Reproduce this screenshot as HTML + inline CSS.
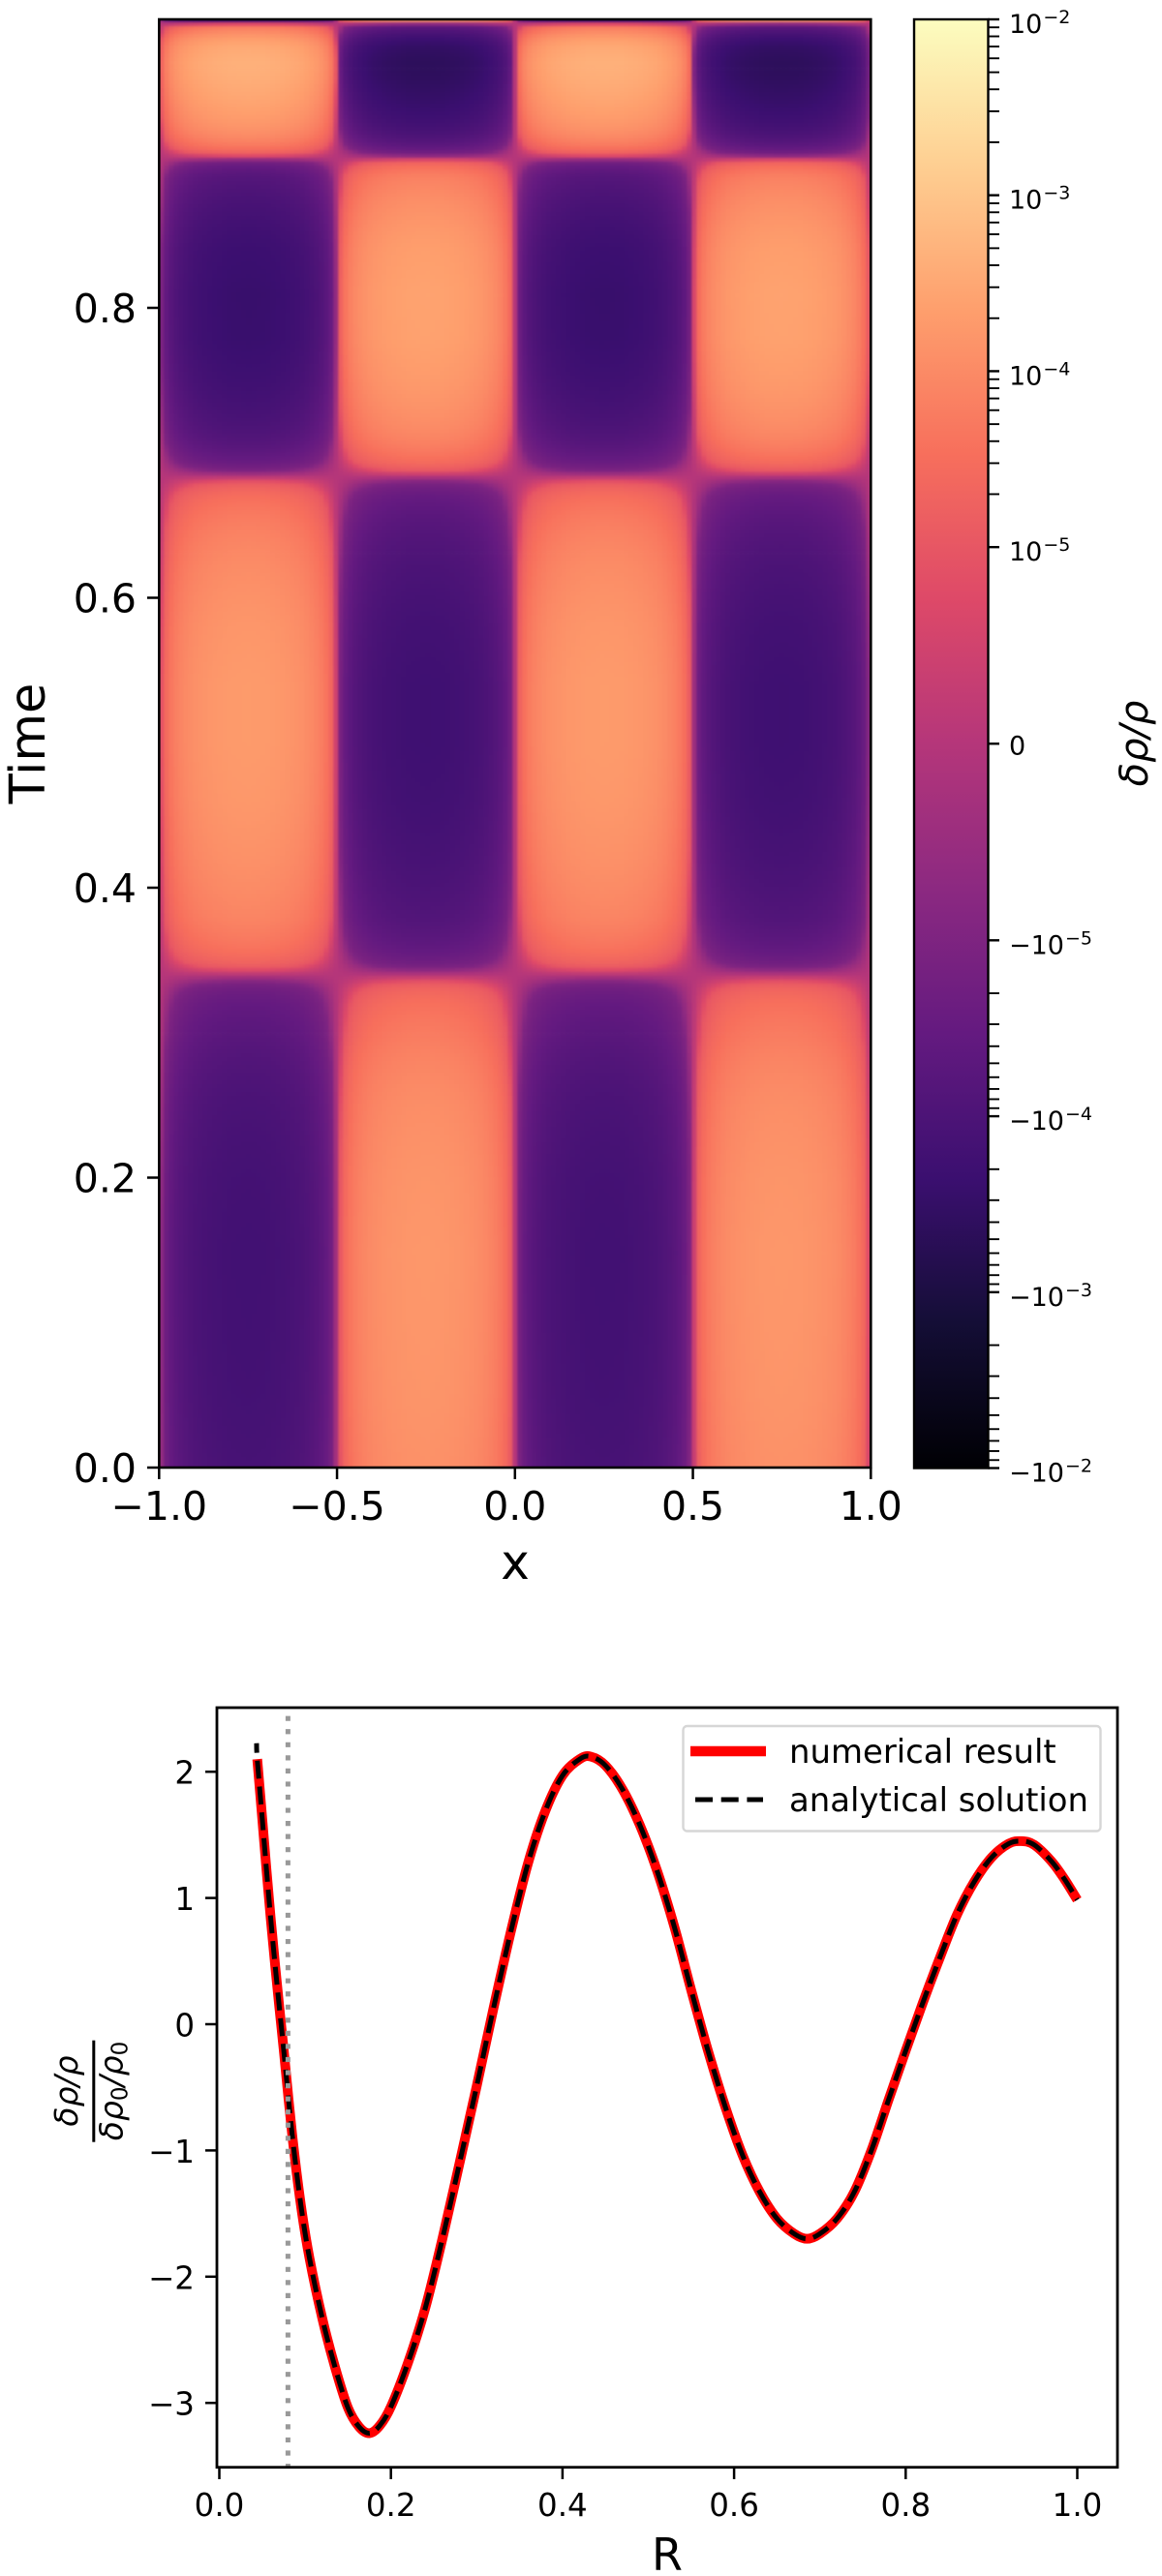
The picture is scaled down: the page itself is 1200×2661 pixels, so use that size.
<!DOCTYPE html>
<html>
<head>
<meta charset="utf-8">
<title>Density perturbation heatmap and radial profile</title>
<style>
html,body{margin:0;padding:0;background:#fff;}
body{width:1200px;height:2661px;overflow:hidden;}
svg{display:block;}
text{font-family:"DejaVu Sans","Liberation Sans",sans-serif;fill:#000;}
</style>
</head>
<body>
<svg id="figure" xmlns="http://www.w3.org/2000/svg" width="1200" height="2661" viewBox="0 0 1200 2661">
  <defs>
    <clipPath id="heat-clip"><rect x="164.3" y="20" width="735" height="1496"/></clipPath>
    <clipPath id="line-clip"><rect x="224" y="1764" width="930" height="784.7"/></clipPath>
    <filter id="heat-blur" filterUnits="userSpaceOnUse" x="140" y="0" width="790" height="1540" color-interpolation-filters="sRGB">
      <feGaussianBlur stdDeviation="1.0"/>
    </filter>
    <linearGradient id="magma-gradient" x1="0" y1="1" x2="0" y2="0">
      <stop offset="0" stop-color="#000004"/>
      <stop offset="0.1" stop-color="#140e36"/>
      <stop offset="0.2" stop-color="#3b0f70"/>
      <stop offset="0.3" stop-color="#641a80"/>
      <stop offset="0.4" stop-color="#8c2981"/>
      <stop offset="0.5" stop-color="#b5367a"/>
      <stop offset="0.6" stop-color="#de4968"/>
      <stop offset="0.7" stop-color="#f76f5c"/>
      <stop offset="0.8" stop-color="#fe9f6d"/>
      <stop offset="0.9" stop-color="#fecf92"/>
      <stop offset="1" stop-color="#fcfdbf"/>
    </linearGradient>
  </defs>

  <g id="heatmap-panel">
    <g clip-path="url(#heat-clip)">
      <g id="heat-cells" filter="url(#heat-blur)"></g>
    </g>
    <rect x="164.3" y="20" width="735" height="1496" fill="none" stroke="#000" stroke-width="2.6"/>
    <g id="heat-x-ticks"></g>
    <g id="heat-y-ticks"></g>
    <text x="532" y="1631" font-size="50" text-anchor="middle">x</text>
    <text transform="translate(46,768) rotate(-90)" font-size="51" text-anchor="middle">Time</text>
  </g>

  <g id="colorbar-panel">
    <rect x="944" y="20" width="76.5" height="1496.5" fill="url(#magma-gradient)" stroke="#000" stroke-width="2.4"/>
    <g id="cbar-ticks"></g>
    <text transform="translate(1185,768) rotate(-90)" font-size="40" font-style="italic" text-anchor="middle">δρ/ρ</text>
  </g>

  <g id="line-panel">
    <g clip-path="url(#line-clip)">
      <path id="numerical-line" fill="none" stroke="#ff0000" stroke-width="10"/>
      <path id="analytical-line" fill="none" stroke="#000" stroke-width="5" stroke-dasharray="18.5 8.2" stroke-dashoffset="8.5"/>
      <line id="reference-line" stroke="#999" stroke-width="5" stroke-dasharray="5.2 8.35"/>
    </g>
    <rect x="224" y="1764" width="930" height="784.7" fill="none" stroke="#000" stroke-width="2.8"/>
    <g id="line-x-ticks"></g>
    <g id="line-y-ticks"></g>
    <text x="689" y="2655" font-size="46" text-anchor="middle">R</text>
    <g>
      <text transform="translate(80,2160) rotate(-90)" font-size="33" font-style="italic" text-anchor="middle">δρ/ρ</text>
      <rect x="95.3" y="2107.7" width="3" height="105" fill="#000"/>
      <text transform="translate(126.5,2160) rotate(-90)" font-size="33" font-style="italic" text-anchor="middle">δρ<tspan font-size="23" font-style="normal" dy="5">0</tspan><tspan dy="-5">/ρ</tspan><tspan font-size="23" font-style="normal" dy="5">0</tspan></text>
    </g>
    <g>
      <rect x="705.5" y="1783" width="431" height="108.5" rx="4" fill="#fff" fill-opacity="0.8" stroke="#d6d6d6" stroke-width="2.4"/>
      <line x1="713" y1="1809" x2="791" y2="1809" stroke="#ff0000" stroke-width="10.5"/>
      <text x="815" y="1821" font-size="33.9">numerical result</text>
      <line x1="718" y1="1859" x2="788" y2="1859" stroke="#000" stroke-width="5" stroke-dasharray="18 8.7"/>
      <text x="815" y="1871" font-size="33.9">analytical solution</text>
    </g>
  </g>
</svg>

<script>
// ---- Heatmap data ----
const heatXNodes = [-1,-0.95,-0.9,-0.85,-0.8,-0.75,-0.7,-0.65,-0.6,-0.55,-0.5,-0.45,-0.4,-0.35,-0.3,-0.25,-0.2,-0.15,-0.1,-0.05,0,0.05,0.1,0.15,0.2,0.25,0.3,0.35,0.4,0.45,0.5,0.55,0.6,0.65,0.7,0.75,0.8,0.85,0.9,0.95,1];
const heatXProfile = [0,-0.36,-0.66,-0.85,-0.97,-1,-0.97,-0.85,-0.66,-0.36,0,0.36,0.66,0.85,0.97,1,0.97,0.85,0.66,0.36,0,-0.36,-0.66,-0.85,-0.97,-1,-0.97,-0.85,-0.66,-0.36,0,0.36,0.66,0.85,0.97,1,0.97,0.85,0.66,0.36,0];
const heatTimes = [0,0.05,0.1,0.15,0.2,0.25,0.28,0.3,0.32,0.33,0.34,0.345,0.35,0.36,0.38,0.42,0.46,0.5,0.54,0.58,0.62,0.65,0.67,0.68,0.684,0.69,0.7,0.72,0.75,0.78,0.81,0.84,0.87,0.89,0.9,0.9035,0.908,0.915,0.93,0.95,0.96,0.97,0.98,0.99,0.994,0.9955,0.9965,0.9975,1];
const heatAmplitude = [1.3e-4,1.5e-4,1.6e-4,1.65e-4,1.5e-4,1.15e-4,8e-5,5.5e-5,3.5e-5,2e-5,0,-1.1e-5,-2.2e-5,-4.2e-5,-8e-5,-1.3e-4,-1.7e-4,-1.9e-4,-1.9e-4,-1.6e-4,-1.1e-4,-6.5e-5,-3.2e-5,-1e-5,0,1.6e-5,4.6e-5,1.1e-4,1.9e-4,2.5e-4,2.6e-4,2.2e-4,1.3e-4,7e-5,2e-5,0,-2.2e-5,-7e-5,-1.9e-4,-3.4e-4,-4.2e-4,-4.5e-4,-3.4e-4,-1.1e-4,-5e-5,-1.5e-5,0,1e-4,2e-4];
const heatXTicks = [-1,-0.5,0,0.5,1];
const heatXTickLabels = ["−1.0","−0.5","0.0","0.5","1.0"];
const heatYTicks = [0,0.2,0.4,0.6,0.8];
const heatYTickLabels = ["0.0","0.2","0.4","0.6","0.8"];

// ---- Colorbar ticks ----
const cbarMajorTicks = [0.01,0.001,0.0001,0.00001,0,-0.00001,-0.0001,-0.001,-0.01];
const cbarMajorBases = ["10","10","10","10","0","−10","−10","−10","−10"];
const cbarMajorExponents = ["−2","−3","−4","−5","","−5","−4","−3","−2"];
const cbarMinorDecades = [0.001,0.0001,0.00001];
const cbarMinorMultiples = [2,3,4,5,6,7,8,9];

// ---- Profile chart data ----
const profileR = [0.0442,0.05,0.055,0.06,0.065,0.07,0.075,0.085,0.095,0.105,0.12,0.135,0.15,0.163,0.175,0.187,0.2,0.22,0.24,0.26,0.28,0.3,0.32,0.34,0.36,0.38,0.4,0.42,0.433,0.45,0.47,0.49,0.51,0.53,0.55,0.57,0.59,0.61,0.63,0.65,0.67,0.685,0.7,0.72,0.74,0.76,0.78,0.8,0.82,0.84,0.86,0.88,0.9,0.92,0.935,0.95,0.97,0.985,1.0];
const numericalValues = [2.1,1.63,1.22,0.83,0.47,0.13,-0.2,-0.88,-1.43,-1.85,-2.33,-2.72,-3.04,-3.19,-3.24,-3.18,-3.03,-2.68,-2.25,-1.7,-1.1,-0.49,0.14,0.74,1.28,1.69,1.97,2.1,2.12,2.05,1.86,1.58,1.22,0.78,0.27,-0.22,-0.66,-1.04,-1.33,-1.54,-1.66,-1.7,-1.66,-1.54,-1.33,-1,-0.6,-0.21,0.17,0.53,0.87,1.13,1.32,1.43,1.45,1.42,1.29,1.15,0.985];
const analyticalStartR = [0.0434];
const analyticalStartValue = [2.226];
const referenceR = [0.08];
const lineXTicks = [0,0.2,0.4,0.6,0.8,1];
const lineXTickLabels = ["0.0","0.2","0.4","0.6","0.8","1.0"];
const lineYTicks = [2,1,0,-1,-2,-3];
const lineYTickLabels = ["2","1","0","−1","−2","−3"];

// ---- Colormap palette ----
const magmaStops = [[0,0,4],[20,14,54],[59,15,112],[100,26,128],[140,41,129],[181,54,122],[222,73,104],[247,111,92],[254,159,109],[254,207,146],[252,253,191]];

const SVG_NS = "http://www.w3.org/2000/svg";

// Axis functions
function heatX(x){ return 164.3 + (x + 1) * 367.5; }
function heatY(t){ return 1516 - t * 1497.5; }
function lineX(r){ return 226.5 + r * 886; }
function lineY(v){ return 2091 - v * 130.4; }
function symlogFraction(v){
  const a = Math.abs(v), lin = 1e-5;
  const m = a <= lin ? (a / lin) * 0.2714 : 0.2714 + 0.2429 * Math.log10(a / lin);
  return Math.max(0, Math.min(1, 0.5 + 0.5 * Math.sign(v) * m));
}
function cbarY(v){ return 20 + (1 - symlogFraction(v)) * 1496.5; }

function interpolate(xs, ys, v){
  if (v <= xs[0]) return ys[0];
  const n = xs.length;
  if (v >= xs[n - 1]) return ys[n - 1];
  let i = 1;
  while (xs[i] < v) i++;
  const f = (v - xs[i - 1]) / (xs[i] - xs[i - 1]);
  return ys[i - 1] + f * (ys[i] - ys[i - 1]);
}
function magma(f){
  const p = f * (magmaStops.length - 1);
  const i = Math.min(magmaStops.length - 2, Math.floor(p));
  const k = p - i, a = magmaStops[i], b = magmaStops[i + 1];
  return "rgb(" + Math.round(a[0] + k * (b[0] - a[0])) + "," + Math.round(a[1] + k * (b[1] - a[1])) + "," + Math.round(a[2] + k * (b[2] - a[2])) + ")";
}
function add(parent, tag){
  const el = document.createElementNS(SVG_NS, tag);
  parent.appendChild(el);
  return el;
}
function addLine(parent, x1, y1, x2, y2, w){
  const el = add(parent, "line");
  el.setAttribute("x1", x1);
  el.setAttribute("y1", y1);
  el.setAttribute("x2", x2);
  el.setAttribute("y2", y2);
  el.setAttribute("stroke", "#000");
  el.setAttribute("stroke-width", w);
  return el;
}
function addText(parent, x, y, size, anchor, str){
  const el = add(parent, "text");
  el.setAttribute("x", x);
  el.setAttribute("y", y);
  el.setAttribute("font-size", size);
  el.setAttribute("text-anchor", anchor);
  el.textContent = str;
  return el;
}

// ---- Heatmap cells ----
(function(){
  const group = document.getElementById("heat-cells");
  const frag = document.createDocumentFragment();
  const dx = 2 / 147, dt = 1 / 374;
  for (let t = -2 * dt; t < 1 + 2 * dt; t += dt) {
    const amp = interpolate(heatTimes, heatAmplitude, t + dt / 2);
    const yTop = heatY(t + dt), h = heatY(t) - yTop + 0.4;
    for (let x = -1 - 2 * dx; x < 1 + 2 * dx; x += dx) {
      const value = amp * interpolate(heatXNodes, heatXProfile, x + dx / 2);
      const cell = document.createElementNS(SVG_NS, "rect");
      cell.setAttribute("x", heatX(x).toFixed(1));
      cell.setAttribute("y", yTop.toFixed(1));
      cell.setAttribute("width", (heatX(x + dx) - heatX(x) + 0.4).toFixed(1));
      cell.setAttribute("height", h.toFixed(1));
      cell.setAttribute("fill", magma(symlogFraction(value)));
      
      
      frag.appendChild(cell);
    }
  }
  group.appendChild(frag);
})();

// ---- Heatmap axes ----
heatXTicks.forEach(function(v, i){
  const g = document.getElementById("heat-x-ticks");
  const tick = addLine(g, heatX(v), 1516, heatX(v), 1528, 2.5);
  
  
  const label = addText(g, heatX(v), 1570, 41, "middle", heatXTickLabels[i]);
  
  
});
heatYTicks.forEach(function(v, i){
  const g = document.getElementById("heat-y-ticks");
  const tick = addLine(g, 152, heatY(v), 164.3, heatY(v), 2.5);
  
  
  const label = addText(g, 141, heatY(v) + 15, 41, "end", heatYTickLabels[i]);
  
  
});

// ---- Colorbar ticks ----
(function(){
  const g = document.getElementById("cbar-ticks");
  cbarMajorTicks.forEach(function(v, i){
    const y = cbarY(v);
    const tick = addLine(g, 1020.5, y, 1032, y, 2.4);
    
    
    const label = addText(g, 1042, y + (v === 0 ? 11 : 14), 27, "start", cbarMajorBases[i]);
    
    
    if (cbarMajorExponents[i]) {
      const exp = add(label, "tspan");
      exp.setAttribute("font-size", "19");
      exp.setAttribute("dy", "-10");
      exp.setAttribute("dx", "1");
      exp.textContent = cbarMajorExponents[i];
    }
  });
  cbarMinorDecades.forEach(function(d){
    cbarMinorMultiples.forEach(function(m){
      [1, -1].forEach(function(s){
        const y = cbarY(s * d * m);
        const tick = addLine(g, 1020.5, y, 1032, y, 1.9);
        
        
      });
    });
  });
})();

// ---- Profile chart ----
function smoothPath(pts){
  let d = "M" + pts[0][0].toFixed(2) + " " + pts[0][1].toFixed(2);
  for (let i = 0; i < pts.length - 1; i++) {
    const p0 = pts[Math.max(0, i - 1)], p1 = pts[i], p2 = pts[i + 1], p3 = pts[Math.min(pts.length - 1, i + 2)];
    d += "C" + (p1[0] + (p2[0] - p0[0]) / 6).toFixed(2) + " " + (p1[1] + (p2[1] - p0[1]) / 6).toFixed(2) + " " +
         (p2[0] - (p3[0] - p1[0]) / 6).toFixed(2) + " " + (p2[1] - (p3[1] - p1[1]) / 6).toFixed(2) + " " +
         p2[0].toFixed(2) + " " + p2[1].toFixed(2);
  }
  return d;
}
(function(){
  const numPts = profileR.map(function(r, i){ return [lineX(r), lineY(numericalValues[i])]; });
  document.getElementById("numerical-line").setAttribute("d", smoothPath(numPts));
  const anaPts = [[lineX(analyticalStartR[0]), lineY(analyticalStartValue[0])]].concat(numPts);
  document.getElementById("analytical-line").setAttribute("d", smoothPath(anaPts));
  const ref = document.getElementById("reference-line");
  ref.setAttribute("x1", lineX(referenceR[0]));
  ref.setAttribute("x2", lineX(referenceR[0]));
  ref.setAttribute("y1", 1772.6);
  ref.setAttribute("y2", 2548);
})();
lineXTicks.forEach(function(v, i){
  const g = document.getElementById("line-x-ticks");
  const tick = addLine(g, lineX(v), 2548.7, lineX(v), 2561, 2.5);
  
  
  const label = addText(g, lineX(v), 2599, 32.5, "middle", lineXTickLabels[i]);
  
  
});
lineYTicks.forEach(function(v, i){
  const g = document.getElementById("line-y-ticks");
  const tick = addLine(g, 212, lineY(v), 224, lineY(v), 2.5);
  
  
  const label = addText(g, 201, lineY(v) + 12.5, 32.5, "end", lineYTickLabels[i]);
  
  
});
</script>
</body>
</html>
